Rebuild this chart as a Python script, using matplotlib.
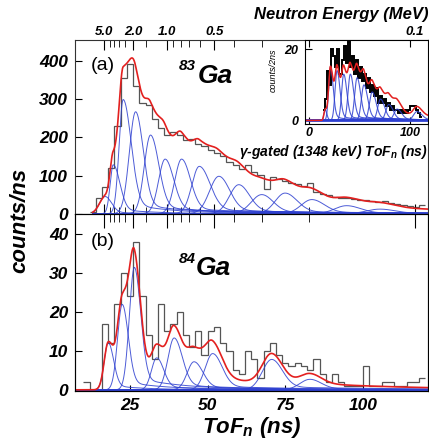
import numpy as np
import matplotlib.pyplot as plt

# ToF bin centres (ns) and counts
tof_a = np.arange(13, 120, 2)
counts_a = [5, 42, 70, 120, 230, 355, 392, 335, 290, 285,
            248, 225, 205, 215, 205, 192, 195, 182, 178, 168,
            160, 150, 135, 128, 118, 128, 110, 102, 65, 95,
            90, 85, 80, 78, 72, 80, 58, 52, 48, 45,
            42, 40, 38, 36, 35, 33, 31, 32, 27, 26,
            22, 20, 18, 22]

tof_b = np.arange(11, 120, 2)
counts_b = [2, 0, 0, 17, 12, 22, 30, 24, 38, 24,
            14, 8, 22, 15, 17, 20, 14, 11, 15, 9,
            15, 16, 12, 10, 5, 4, 10, 8, 3, 10,
            12, 9, 7, 6, 7, 6, 5, 8, 4, 2,
            4, 2, 1, 1, 1, 6, 1, 1, 2, 2,
            1, 1, 2, 2, 3]

tof_in = np.arange(15, 112, 2)
counts_in = [3, 6, 14, 10, 20, 18, 15, 20, 13, 17,
             21, 16, 22, 15, 18, 13, 17, 12, 15, 11,
             13, 9, 12, 8, 10, 7, 9, 5, 7, 5,
             6, 4, 5, 3, 4, 3, 3, 2, 3, 2,
             3, 2, 3, 4, 4, 4, 3, 2, 1]

# fitted peak components: centre (ns), height, left / right width (ns)
cen_a = [17.0, 19.6, 22.8, 26.8, 31.6, 36.3, 41.6, 47.3, 53.6, 60.0, 67.4, 74.9, 83.5, 94.7, 105.4]
amp_a = [45, 128, 299, 267, 206, 143, 143, 124, 98, 76, 50, 54, 37, 21, 12]
wl_a = [1.8, 1.0, 1.3, 2.0, 2.0, 2.1, 2.2, 2.4, 3.0, 3.0, 3.4, 3.2, 3.4, 3.8, 4.2]
wr_a = [2.0, 2.1, 2.5, 2.4, 2.6, 2.7, 2.8, 3.4, 3.4, 3.4, 3.6, 3.8, 4.0, 4.4, 4.8]

cen_b = [18.0, 22.5, 26.4, 33.6, 39.2, 45.6, 51.6, 70.6, 82.9]
amp_b = [12.1, 21.9, 31.4, 8.2, 13.3, 7.2, 9.3, 7.8, 2.7]
wl_b = [1.3, 1.5, 1.6, 1.7, 2.0, 2.2, 2.4, 3.0, 3.2]
wr_b = [1.7, 1.9, 2.0, 2.2, 2.6, 2.8, 3.0, 3.4, 3.6]

cen_in = [15.7, 21.0, 27.6, 34.2, 40.8, 47.5, 54.3, 62.5, 70.8, 79.0, 87.3, 107.0]
amp_in = [3, 15, 14, 13, 13, 12, 10, 8, 6, 4.5, 3.2, 2.5]
wl_in = [1.2, 1.8, 2.0, 2.1, 2.3, 2.4, 2.5, 2.7, 2.8, 2.9, 3.1, 3.4]
wr_in = [1.6, 2.6, 2.8, 3.0, 3.2, 3.4, 3.6, 3.8, 4.0, 4.2, 4.4, 4.8]

# neutron energy axis (MeV)
e_major = [5.0, 2.0, 1.0, 0.5, 0.1]
e_major_lbl = ['5.0', '2.0', '1.0', '0.5', '0.1']
e_minor = [4.0, 3.5, 3.0, 2.5, 1.5, 0.9, 0.8, 0.7, 0.6, 0.4, 0.3, 0.2]
T_1MEV = 36.9  # ns for 1 MeV over the flight path

RED = '#e3201f'
BLUE = '#2d3fd0'
GREY = '#555555'

plt.rcParams['font.family'] = ['Liberation Sans', 'DejaVu Sans']
plt.rcParams['font.weight'] = 'bold'
plt.rcParams['font.style'] = 'italic'
plt.rcParams['mathtext.fontset'] = 'custom'
plt.rcParams['mathtext.it'] = 'Liberation Sans:bold:italic'
plt.rcParams['mathtext.rm'] = 'Liberation Sans:bold:italic'


def tof_of(e):
    return T_1MEV / np.sqrt(np.asarray(e))


def response(t, c, a, sl, sr, k=0.1):
    s = np.where(t < c, sl, sr)
    g = np.exp(-0.5 * ((t - c) / s) ** 2)
    tail = np.where(t > c, k * np.exp(-(t - c) / (0.6 * c)) * (1 - g), 0.0)
    return a * (g + tail)


def px(x, y):
    return x / 429, 1 - y / 445


def draw(ax, bins, counts, cen, amp, wl, wr, t0, hist_color, hist_lw, red_lw=1.2, blue_lw=0.7):
    t = np.linspace(t0, 125, 1500)
    comps = [response(t, c, a, sl, sr) for c, a, sl, sr in zip(cen, amp, wl, wr)]
    for y in comps:
        ax.plot(t, y, color=BLUE, lw=blue_lw, alpha=0.85)
    ax.hlines(0, t0, 125, color=BLUE, lw=2)
    edges = np.append(np.asarray(bins) - 1, bins[-1] + 1)
    ax.stairs(counts, edges, color=hist_color, lw=hist_lw, baseline=None)
    ax.plot(t, np.sum(comps, axis=0), color=RED, lw=red_lw)


fig = plt.figure(figsize=(4.29, 4.45), dpi=100)
L, W = 75 / 429, 353 / 429
ax_a = fig.add_axes([L, 1 - 214 / 445, W, 174 / 445])
ax_b = fig.add_axes([L, 1 - 391 / 445, W, 177 / 445])
xlim = (7.3, 120.9)

draw(ax_a, tof_a, counts_a, cen_a, amp_a, wl_a, wr_a, 13, GREY, 0.9)
draw(ax_b, tof_b, counts_b, cen_b, amp_b, wl_b, wr_b, 7, GREY, 0.9)

for ax in (ax_a, ax_b):
    ax.set_xlim(*xlim)
    for sp in ax.spines.values():
        sp.set_linewidth(0.8)
        sp.set_color('#333333')
    ax.tick_params(axis='y', direction='in', length=5, labelsize=12.5, pad=5, right=False)

ax_a.set_ylim(-0.8, 455)
ax_a.set_yticks([0, 100, 200, 300, 400])
ax_a.set_xticks(tof_of(e_major), e_major_lbl)
ax_a.set_xticks(tof_of(e_minor), minor=True)
ax_a.tick_params(axis='x', which='both', direction='in', top=True, bottom=True,
                 labeltop=True, labelbottom=False, labelsize=9.5, pad=1.5)
ax_a.tick_params(axis='x', which='major', length=7)
ax_a.tick_params(axis='x', which='minor', length=5)

ax_b.set_ylim(-0.3, 45.1)
ax_b.set_yticks([0, 10, 20, 30, 40])
ax_b.set_xticks([25, 50, 75, 100])
ax_b.tick_params(axis='x', direction='in', length=4, labelsize=12.5, pad=5, top=False)

ax_bt = ax_b.twiny()
ax_bt.set_xlim(*xlim)
ax_bt.set_xticks(tof_of(e_major), [''] * len(e_major))
ax_bt.set_xticks(tof_of(e_minor), minor=True)
ax_bt.tick_params(axis='x', which='major', direction='in', length=10)
ax_bt.tick_params(axis='x', which='minor', direction='in', length=6)

# inset: gamma-gated spectrum
ax_in = fig.add_axes([305 / 429, 1 - 124 / 445, 123 / 429, 84 / 445])
draw(ax_in, tof_in, counts_in, cen_in, amp_in, wl_in, wr_in, -5, 'black', 1.4,
     red_lw=1.1, blue_lw=0.8)
ax_in.set_xlim(-4.3, 118)
ax_in.set_ylim(-1, 22.6)
ax_in.set_xticks([0, 100])
ax_in.set_yticks([0, 20])
ax_in.tick_params(axis='both', direction='in', length=5, labelsize=9, top=True)
ax_in.tick_params(axis='x', pad=2)
ax_in.tick_params(axis='y', pad=5)
for sp in ax_in.spines.values():
    sp.set_linewidth(0.8)

fig.text(*px(273, 70), 'counts/2ns', rotation=90, ha='center', va='center',
         fontsize=6.5, fontweight='normal')
fig.text(*px(427, 152), r'$\gamma$-gated (1348 keV) ToF$_n$ (ns)', ha='right', va='center',
         fontsize=10)

# labels
fig.text(*px(428, 15), 'Neutron Energy (MeV)', ha='right', va='center', fontsize=12)
fig.text(*px(252, 428), 'ToF$_n$ (ns)', ha='center', va='center', fontsize=16)
fig.text(*px(20, 220), 'counts/ns', rotation=90, ha='center', va='center', fontsize=16)

fig.text(*px(103, 65), '(a)', ha='center', va='center', fontsize=14,
         fontweight='normal', fontstyle='normal')
fig.text(*px(103, 241), '(b)', ha='center', va='center', fontsize=14,
         fontweight='normal', fontstyle='normal')
fig.text(*px(179, 70), '83', ha='left', va='baseline', fontsize=11)
fig.text(*px(198, 83), 'Ga', ha='left', va='baseline', fontsize=19)
fig.text(*px(179, 263), '84', ha='left', va='baseline', fontsize=11)
fig.text(*px(196, 275), 'Ga', ha='left', va='baseline', fontsize=19)

fig.savefig('out.png', dpi=100)
